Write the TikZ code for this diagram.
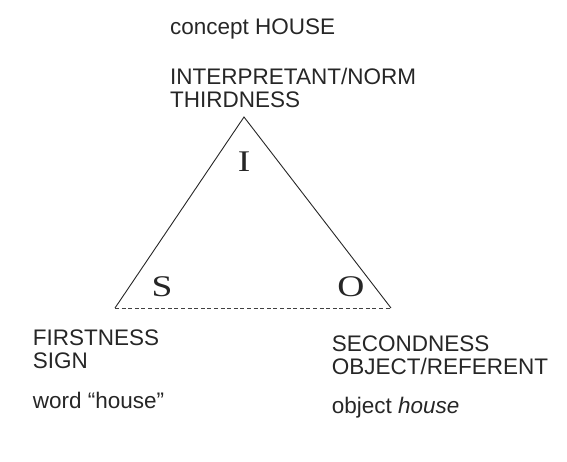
\documentclass[tikz,border=0pt]{standalone}
\usepackage{fontspec}
\setmainfont{Liberation Serif}
\setsansfont{Liberation Sans}
\newcommand{\widecorner}[1]{\scalebox{1.25}[1]{#1}}
\begin{document}
\begin{tikzpicture}[x=1pt,y=-1pt,
  lbl/.style={inner sep=0pt,anchor=base west,text=black!85,font=\sffamily\fontsize{22.5}{27}\selectfont},
  corner/.style={inner sep=0pt,anchor=base,text=black!85,font=\rmfamily\fontsize{30}{34}\selectfont},
  side/.style={draw=black!85,line width=0.9pt},
  base/.style={draw=black!75,line width=0.9pt,dash pattern=on 4pt off 2.6pt}]
\useasboundingbox (0,0) rectangle (567,462);
\coordinate (A) at (244,117);
\coordinate (B) at (115,308);
\coordinate (C) at (391,308);
\draw[side] (B) -- (A) -- (C);
\draw[base] (B) -- (C);
\node[corner] (I) at (244,171.7) {\widecorner{I}};
\node[corner] (S) at (162,296) {\widecorner{S}};
\node[corner] (O) at (351,296) {\widecorner{O}};
\node[lbl] (concept) at (170,35) {concept HOUSE};
\node[lbl] (interp) at (170,85) {INTERPRETANT/NORM};
\node[lbl] (third) at (170,108) {THIRDNESS};
\node[lbl] (first) at (32.7,345) {FIRSTNESS};
\node[lbl] (sign) at (32.7,368) {SIGN};
\node[lbl] (word) at (32.7,408) {word “house”};
\node[lbl] (second) at (331.7,351.7) {SECONDNESS};
\node[lbl] (objref) at (331.7,374) {OBJECT/REFERENT};
\node[lbl] (objh) at (331.7,413) {object \textit{house}};
\end{tikzpicture}
\end{document}
